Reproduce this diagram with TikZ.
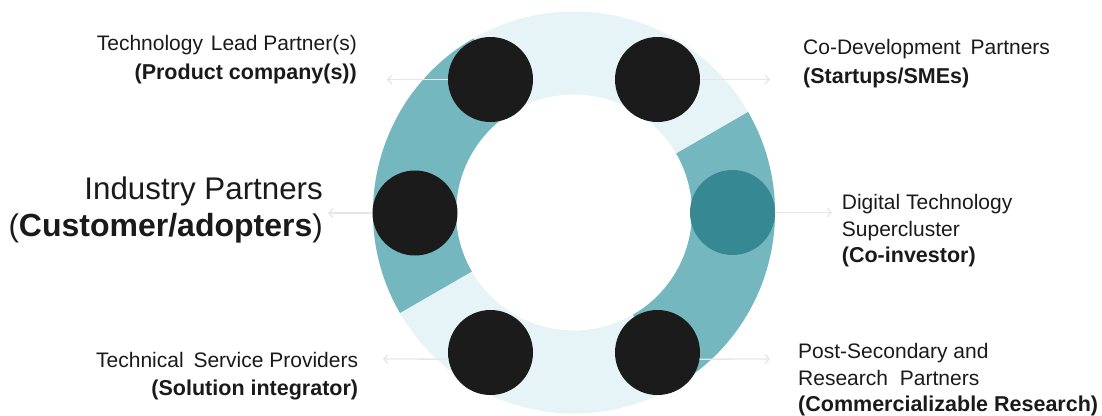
\documentclass[tikz,border=0pt]{standalone}
\usepackage{fontspec}
\setmainfont{Liberation Sans}
\usetikzlibrary{arrows.meta,calc}
\definecolor{bandlight}{HTML}{E6F4F7}
\definecolor{bandteal}{HTML}{74B7BF}
\definecolor{dotdark}{HTML}{1B1B1B}
\definecolor{dotteal}{HTML}{368892}
\definecolor{arrowgray}{HTML}{E6E6E6}
\definecolor{txt}{HTML}{1A1A1A}
\begin{document}
\begin{tikzpicture}[x=1pt,y=1pt,
  dot/.style={circle,fill=dotdark,minimum size=85pt,inner sep=0pt,draw=none},
  tealdot/.style={dot,fill=dotteal},
  link/.style={draw=arrowgray,line width=1.3pt,-{Straight Barb[length=4pt,width=9pt]}},
  lbl/.style={inner sep=0pt,text=txt,font=\fontsize{21}{27}\selectfont},
  boldlbl/.style={inner sep=0pt,text=txt,font=\fontsize{21.5}{27}\selectfont\bfseries},
  biglbl/.style={inner sep=0pt,text=txt,font=\fontsize{31.3}{37}\selectfont}]
\useasboundingbox (0,0) rectangle (1102,-415);
\coordinate (C) at (574,-212.5);
% ring
\fill[bandlight,even odd rule] (C) circle[radius=201] (C) circle[radius=118];
\fill[bandteal] ($(C)+(120:201)$) arc[start angle=120,end angle=210,radius=201]
  -- ($(C)+(210:118)$) arc[start angle=210,end angle=120,radius=118] -- cycle;
\fill[bandteal] ($(C)+(-60:201)$) arc[start angle=-60,end angle=30,radius=201]
  -- ($(C)+(30:118)$) arc[start angle=30,end angle=-60,radius=118] -- cycle;
% dots
\node[dot] (TL) at (490.5,-79.5) {};
\node[dot] (TR) at (657.5,-79.5) {};
\node[dot] (L) at (415,-213) {};
\node[tealdot] (R) at (732.5,-212.5) {};
\node[dot] (BL) at (490.5,-352.5) {};
\node[dot] (BR) at (657.5,-352.5) {};
% arrow ends
\coordinate (aTL) at (387,-79.5);
\coordinate (aTR) at (770,-79.5);
\coordinate (aL) at (328,-213);
\coordinate (aR) at (832,-212.5);
\coordinate (aBL) at (383,-359);
\coordinate (aBR) at (770,-359);
\draw[link] (TL.west) -- (aTL);
\draw[link] (TR.east) -- (aTR);
\draw[link] (L.west) -- (aL);
\draw[link] (R.east) -- (aR);
\draw[link] (BL.189) -- (aBL);
\draw[link] (BR.351) -- (aBR);
% labels
\node[lbl,anchor=base east] (tl1) at (357,-50.7) {Technology\hspace{2pt} Lead Partner(s)};
\node[boldlbl,anchor=base east] (tl2) at (357,-79.3) {(Product company(s))};
\node[biglbl,anchor=base east] (ip1) at (323,-199.3) {Industry Partners};
\node[biglbl,anchor=base east] (ip2) at (323,-236.7) {({\fontsize{32}{37}\selectfont\bfseries Customer/adopters})};
\node[lbl,anchor=base west] (cd1) at (803,-54.3) {Co-Development\hspace{4pt} Partners};
\node[boldlbl,anchor=base west] (cd2) at (803,-83.3) {(Startups/SMEs)};
\node[lbl,anchor=base west] (dt1) at (841.7,-209.3) {Digital Technology};
\node[lbl,anchor=base west] (dt2) at (841.7,-236) {Supercluster};
\node[boldlbl,anchor=base west] (dt3) at (841.7,-262.7) {(Co-investor)};
\node[lbl,anchor=base west] (ps1) at (798,-358.3) {Post-Secondary and};
\node[lbl,anchor=base west] (ps2) at (798,-385) {Research\hspace{6pt} Partners};
\node[boldlbl,anchor=base west] (ps3) at (798,-411.7) {(Commercializable Research)};
\node[lbl,anchor=base east] (ts1) at (358.3,-367.3) {Technical\hspace{4pt} Service Providers};
\node[boldlbl,anchor=base east] (ts2) at (358.3,-395) {(Solution integrator)};
\end{tikzpicture}
\end{document}
